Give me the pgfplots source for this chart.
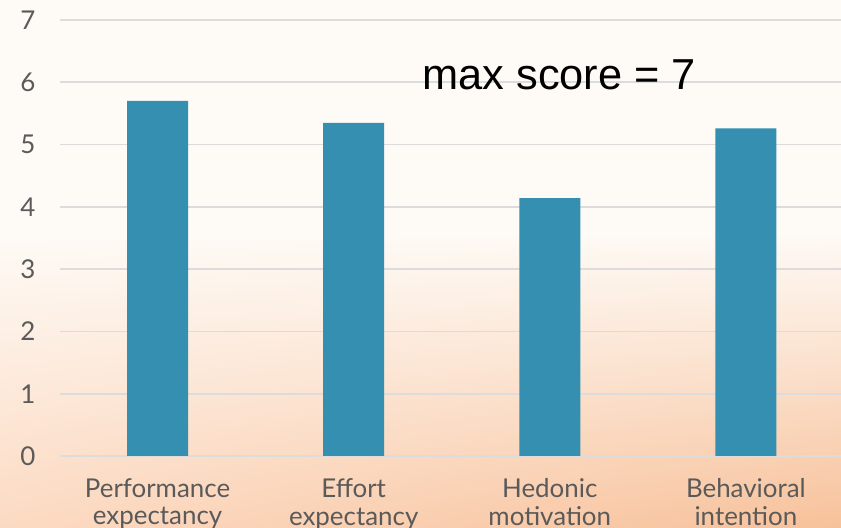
\documentclass[border=0pt]{standalone}
\usepackage{fontspec}
\setmainfont{Lato}
\newfontfamily\arialfont{Liberation Sans}
\usepackage{pgfplots}
\pgfplotsset{compat=1.18}
\usetikzlibrary{shadings}

\definecolor{barblue}{HTML}{348FB0}
\definecolor{cream}{HTML}{FEFBF7}
\definecolor{peachL}{HTML}{FCDAC2}
\definecolor{peachR}{HTML}{F7C19A}
\definecolor{gridgray}{HTML}{DCDCDC}
\definecolor{labelgray}{HTML}{5A5A5A}

\begin{document}
\begin{tikzpicture}[x=1bp,y=1bp]
  \useasboundingbox (0,0) rectangle (841,528);
  % background gradient
  \fill[cream] (0,0) rectangle (841,528);
  \shade[upper left=cream, upper right=cream, lower left=peachL, lower right=peachR]
    (0,0) rectangle (841,300);

  \begin{axis}[
      at={(59.5bp,72bp)}, anchor=south west,
      scale only axis,
      width=781.5bp, height=436bp,
      xmin=-0.5, xmax=3.485,
      ymin=0, ymax=7,
      ytick={0,1,...,7},
      xtick={0,1,2,3},
      xticklabels={{Performance\\expectancy},{Effort\\expectancy},{Hedonic\\motivation},{Behavioral\\intention}},
      axis line style={draw=none},
      major tick style={draw=none},
      ymajorgrids,
      major grid style={gridgray, line width=1.6bp},
      /pgf/number format/assume math mode=true,
      ticklabel style={font=\fontsize{26}{28}\selectfont, text=labelgray},
      yticklabel style={inner sep=0pt, xshift=-24bp},
      xticklabel style={align=center, inner sep=0pt, yshift=-22bp},
      clip=false,
    ]
    \addplot[ybar, bar width=61bp, fill=barblue, draw=none] coordinates {
      (0,5.70)
      (1,5.35)
      (2,4.14)
      (3,5.26)
    };
    \node[anchor=base west, inner sep=0pt, font=\arialfont\fontsize{43.5}{48}\selectfont]
      at (axis cs:1.35,5.89) {max score = 7};
  \end{axis}
\end{tikzpicture}
\end{document}
